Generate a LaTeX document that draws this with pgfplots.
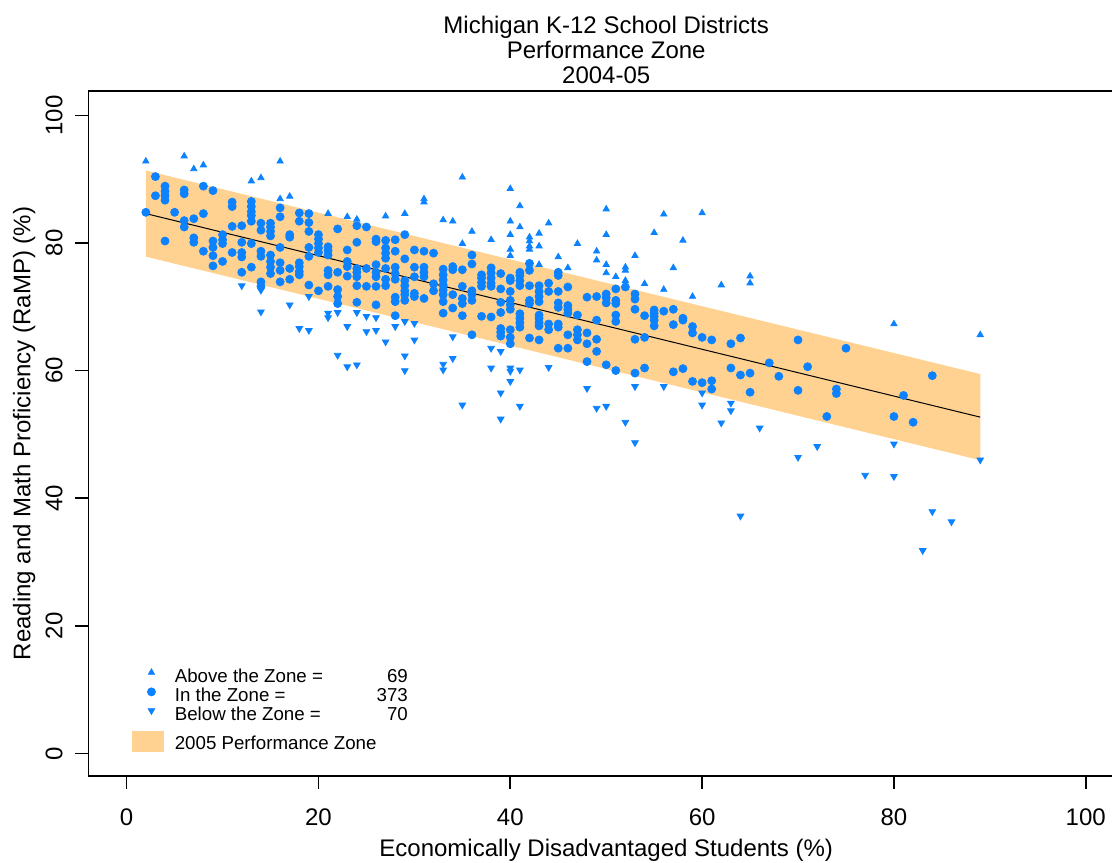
\documentclass[border=0pt]{standalone}
\usepackage{fontspec}
\setmainfont{Liberation Sans}
\usepackage{pgfplots}
\usepackage{pgfplotstable}
\pgfplotsset{compat=1.18}
\definecolor{zone}{RGB}{255,210,145}
\definecolor{pts}{RGB}{12,130,255}

% districts above the zone
\pgfplotstableread{
x y
2 92.8
6 93.6
7 91.6
8 92.2
13 89.7
14 90.2
16 92.8
16 86.9
17 87.3
21 84.6
23 84.1
24 83.7
27 84.2
29 84.6
31 86.9
31 86.4
33 83.6
34 83.4
35 90.3
36 81.8
35 79.9
38 80.5
40 88.5
41 85.8
40 83.4
41 82.5
40 81.3
42 80.9
42 80.3
42 79.5
42 79.0
40 79.0
40 78.0
43 81.5
43 79.5
44 83.1
43 76.6
45 77.8
46 76.1
47 79.9
49 78.7
49 77.3
50 85.3
50 81.3
50 76.6
50 75.3
51 74.7
52 76.2
52 75.7
52 74.1
53 78.0
54 73.6
55 81.6
56 84.5
56 72.7
57 76.1
58 80.4
59 71.6
60 84.7
62 73.4
65 74.8
65 73.7
80 67.3
89 65.6
}\abovezone

% districts in the zone
\pgfplotstableread{
x y
2 84.8
3 90.4
3 87.4
4 88.9
4 88.1
4 87.4
4 86.7
4 80.3
5 84.8
6 88.3
6 87.7
6 83.5
6 82.5
7 83.8
7 80.8
7 80.1
8 88.9
8 84.6
8 78.7
9 88.2
9 80.3
9 79.3
9 78.0
9 76.4
10 81.3
10 80.5
10 79.9
10 77.1
11 86.4
11 85.7
11 82.6
11 78.5
12 82.7
12 80.1
12 78.5
12 77.8
12 75.4
13 86.5
13 85.7
13 84.9
13 84.3
13 83.4
13 79.9
13 76.2
14 83.1
14 82.0
14 78.7
14 77.9
14 73.9
14 73.2
15 83.1
15 82.5
15 81.8
15 81.1
15 78.1
15 77.1
15 76.2
15 75.2
16 85.5
16 84.1
16 79.3
16 76.9
16 75.7
16 73.9
17 81.3
17 80.9
17 76.0
17 74.3
18 84.7
18 83.4
18 76.9
18 76.3
18 75.5
18 75.0
19 84.6
19 83.2
19 81.8
19 79.3
19 77.9
19 73.4
20 81.3
20 80.6
20 79.9
20 79.2
20 78.5
20 72.5
21 79.4
21 78.8
21 78.1
21 75.7
21 75.0
21 73.2
22 82.2
22 75.4
22 72.7
22 71.6
22 70.5
23 78.9
23 77.1
23 76.3
23 74.8
24 82.7
24 80.1
24 76.0
24 75.4
24 74.7
24 73.3
24 70.7
25 82.5
25 76.0
25 73.2
26 80.6
26 80.2
26 76.6
26 75.4
26 74.7
26 73.2
26 70.3
27 80.4
27 79.2
27 78.4
27 77.6
27 76.0
27 74.3
27 73.3
28 80.5
28 78.7
28 76.2
28 75.2
28 74.3
28 71.5
28 70.8
28 68.6
29 81.3
29 77.5
29 74.1
29 73.3
29 72.5
29 71.9
29 71.0
30 78.9
30 76.2
30 74.7
30 72.1
30 71.6
31 78.7
31 76.2
31 75.4
31 74.7
31 71.3
32 78.4
32 73.6
32 72.5
33 75.9
33 75.0
33 74.2
33 73.4
33 72.6
33 71.9
33 70.8
33 69.0
34 76.3
34 75.8
34 71.9
34 69.8
35 75.8
35 73.2
35 71.3
35 70.5
35 68.6
36 78.1
36 76.7
36 72.5
36 71.9
36 71.0
36 65.6
37 75.0
37 74.5
37 73.8
37 73.2
37 68.5
38 76.1
38 75.3
38 74.5
38 73.7
38 73.2
38 68.4
39 75.2
39 72.8
39 70.7
39 69.1
39 66.6
39 66.0
39 65.4
40 74.5
40 74.1
40 72.4
40 71.0
40 70.3
40 69.6
40 66.4
40 65.2
40 64.2
41 75.4
41 74.9
41 74.1
41 73.3
41 68.9
41 68.2
41 67.5
41 66.8
42 76.8
42 75.7
42 73.3
42 71.0
42 70.5
42 65.1
43 73.3
43 72.4
43 71.6
43 70.8
43 68.7
43 68.2
43 67.5
43 67.0
43 64.8
44 73.7
44 72.4
44 67.3
44 66.4
45 75.4
45 74.9
45 72.4
45 70.6
45 69.9
45 67.3
45 66.8
45 63.5
46 73.1
46 70.2
46 69.6
46 69.0
46 65.6
46 63.5
47 68.7
47 66.4
47 65.6
47 64.8
48 71.5
48 65.9
48 64.2
48 61.4
49 71.6
49 67.9
49 64.9
49 63.0
50 72.0
50 71.4
50 70.6
50 60.9
51 72.8
51 71.0
51 70.5
51 68.7
51 67.7
51 60.0
52 73.1
53 72.0
53 71.2
53 69.6
53 64.9
53 59.6
54 68.6
54 65.2
54 60.4
55 69.5
55 69.0
55 68.5
55 67.9
55 67.0
56 69.3
57 69.6
57 67.2
57 59.8
58 68.2
58 67.9
58 60.3
59 66.9
59 65.9
59 58.3
60 65.2
60 58.1
61 64.8
61 58.4
61 57.1
63 64.2
63 60.4
64 65.1
64 59.3
65 59.6
65 56.6
67 61.2
68 59.1
70 64.8
70 56.9
71 60.6
73 52.8
74 57.1
74 56.4
75 63.5
80 52.8
81 56.1
82 51.9
84 59.2
}\inzone

% districts below the zone
\pgfplotstableread{
x y
12 73.3
14 72.6
14 69.2
17 70.3
18 66.6
19 66.3
19 71.6
21 69.0
21 68.3
22 69.1
23 66.9
24 69.1
25 68.5
26 68.3
25 66.1
26 66.3
27 64.5
28 66.9
29 67.7
30 67.4
30 64.8
29 62.3
29 60.0
22 62.4
23 60.6
24 60.9
33 61.0
33 60.1
34 65.3
34 61.9
35 54.6
38 63.5
39 63.0
38 60.4
40 60.4
40 59.9
41 60.1
44 60.5
40 58.3
48 57.2
53 57.5
39 56.5
41 54.4
39 52.4
49 54.1
50 54.4
52 51.9
53 48.7
56 57.5
60 56.5
60 54.6
63 54.9
63 53.7
62 51.8
66 51.0
72 48.1
70 46.4
64 37.2
80 48.5
89 46.0
77 43.6
80 43.4
84 37.9
86 36.3
83 31.8
}\belowzone

\begin{document}
\begin{tikzpicture}
\begin{axis}[
    scale only axis,
    width=517.9pt, height=342.3pt,
    xmin=-4, xmax=104, ymin=-3.5, ymax=103.8,
    xtick={0,20,...,100}, ytick={0,20,...,100},
    xtick pos=bottom, ytick pos=left,
    tick align=outside, major tick length=6.5pt,
    axis line style={line width=0.8pt},
    every tick/.style={black, line width=0.8pt},
    ticklabel style={font=\fontsize{12}{14}\selectfont},
    /pgf/number format/assume math mode=true,
    xticklabel style={anchor=base},
    xticklabel shift=18.5pt,
    yticklabel style={rotate=90, anchor=base},
    yticklabel shift=6.5pt,
    legend style={at={(axis cs:0.52,13.3)}, anchor=north west,
        draw=none, fill=none, inner sep=0pt, row sep=0pt,
        font=\fontsize{9.35}{9.35}\selectfont,
        nodes={inner sep=0pt, text height=6.7pt, text depth=2.65pt},
        /tikz/every odd column/.append style={column sep=5.5pt}},
    legend cell align=left,
    scatter leg/.style={legend image code/.code={%
        \path[draw=none, fill=none] (0pt,0pt) rectangle (15.5pt,0pt);
        \draw plot[only marks] coordinates {(9.5pt,3pt)};}},
]
\coordinate (sw) at (rel axis cs:0,0);
\coordinate (top) at (rel axis cs:0.5,1);
\coordinate (bot) at (rel axis cs:0.5,0);
\coordinate (lft) at (rel axis cs:0,0.5);

% 2005 performance zone and its centre line
\addplot[fill=zone, draw=none, forget plot]
    coordinates {(2,91.35) (89,59.45) (89,45.95) (2,77.85)} -- cycle;
\addplot[black, line width=0.5pt, forget plot]
    coordinates {(2,84.6) (89,52.7)};

\addplot[only marks, mark=triangle*, mark size=1.8pt, color=pts, scatter leg]
    table[x=x, y=y] {\abovezone};
\addlegendentry{\makebox[116.5pt][l]{Above the Zone =\hfill 69}}
\addplot[only marks, mark=*, mark size=2pt, color=pts, scatter leg]
    table[x=x, y=y] {\inzone};
\addlegendentry{\makebox[116.5pt][l]{In the Zone =\hfill 373}}
\addplot[only marks, mark=triangle*, mark size=1.9pt, color=pts,
    mark options={rotate=180}, scatter leg]
    table[x=x, y=y] {\belowzone};
\addlegendentry{\makebox[116.5pt][l]{Below the Zone =\hfill 70}}
\addlegendimage{legend image code/.code={%
    \fill[zone] (0pt,-5.5pt) rectangle (15.5pt,4.5pt);}}
\addlegendentry[text height=11.7pt]{2005 Performance Zone}
\end{axis}

\begin{scope}[font=\fontsize{12}{14}\selectfont]
\node[anchor=base] at ([yshift=28.85pt]top) {Michigan K-12 School Districts};
\node[anchor=base] at ([yshift=16.35pt]top) {Performance Zone};
\node[anchor=base] at ([yshift=3.85pt]top) {2004-05};
\node[anchor=base] at ([yshift=-40.6pt]bot) {Economically Disadvantaged Students (\%)};
\node[anchor=base, rotate=90] at ([xshift=-29pt]lft)
    {Reading and Math Proficiency (RaMP) (\%)};
\end{scope}

\pgfresetboundingbox
\useasboundingbox ([shift={(-44.15pt,-43.15pt)}]sw)
    rectangle ([shift={(511.85pt,387.85pt)}]sw);
\end{tikzpicture}
\end{document}
